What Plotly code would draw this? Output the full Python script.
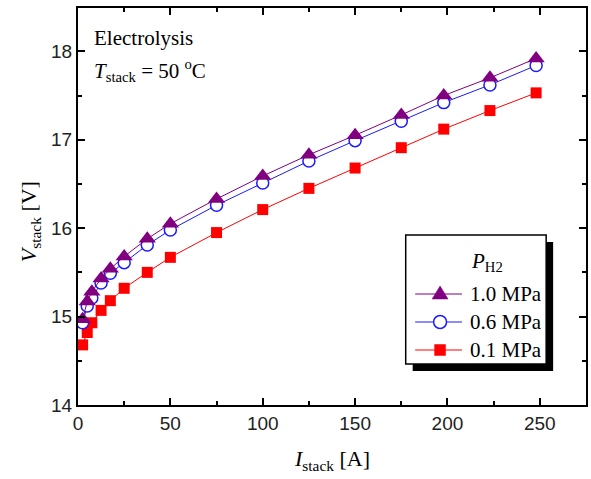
import plotly.graph_objects as go

current = [2.5, 5, 7.5, 12.5, 17.5, 25, 37.5, 50, 75, 100, 125, 150, 175, 198, 223, 248]
v_10 = [14.97, 15.17, 15.28, 15.43, 15.54, 15.68, 15.88, 16.05, 16.33, 16.59, 16.83, 17.05, 17.28, 17.50, 17.70, 17.92]
v_06 = [14.93, 15.12, 15.21, 15.38, 15.49, 15.61, 15.81, 15.98, 16.26, 16.51, 16.76, 16.99, 17.21, 17.42, 17.62, 17.84]
v_01 = [14.68, 14.82, 14.93, 15.07, 15.18, 15.32, 15.50, 15.67, 15.95, 16.21, 16.45, 16.68, 16.91, 17.12, 17.33, 17.53]
names = ["1.0 MPa", "0.6 MPa", "0.1 MPa"]
colors = ["#800080", "#1a1aff", "#ff0000"]

W, H = 591, 479
L, R, T, B = 78, 3, 8, 74
pw, ph = W - L - R, H - T - B

def px(x):
    return (x - L) / pw

def py(y):
    return (H - B - y) / ph

serif = "Liberation Serif, Times New Roman, serif"
sans = "Liberation Sans, Arial, sans-serif"

fig = go.Figure()
fig.add_trace(go.Scatter(x=current, y=v_01, name=names[2], mode="lines+markers",
                         line=dict(color=colors[2], width=1),
                         marker=dict(symbol="square", size=11, color=colors[2])))
fig.add_trace(go.Scatter(x=current, y=v_06, name=names[1], mode="lines+markers",
                         line=dict(color=colors[1], width=1),
                         marker=dict(symbol="circle", size=12, color="white",
                                     line=dict(color=colors[1], width=1.5))))
fig.add_trace(go.Scatter(x=current, y=v_10, name=names[0], mode="lines+markers",
                         line=dict(color=colors[0], width=1),
                         marker=dict(symbol="triangle-up", size=15, color=colors[0])))

axis_common = dict(showline=True, linecolor="black", linewidth=2, mirror="allticks",
                   ticks="inside", ticklen=7, tickwidth=1.5, tickcolor="black",
                   showgrid=False, zeroline=False,
                   tickfont=dict(family=sans, size=19, color="#222"))

fig.update_xaxes(range=[0, 275], dtick=50, tick0=0,
                 minor=dict(ticks="inside", ticklen=4, dtick=25, tickcolor="black", tickwidth=1.5),
                 **axis_common)
fig.update_yaxes(range=[14, 18.49], dtick=1, tick0=14,
                 minor=dict(ticks="inside", ticklen=4, dtick=0.5, tickcolor="black", tickwidth=1.5),
                 **axis_common)

# ---- hand-drawn legend (box, shadow, glyphs, labels) ----
lx0, ly0, lx1, ly1 = 407, 235, 548, 364
shapes = []
annotations = []
shapes.append(dict(type="rect", xref="paper", yref="paper",
                   x0=px(lx0 + 7), x1=px(lx1 + 7), y0=py(ly1 + 7), y1=py(ly0 + 7),
                   fillcolor="black", line=dict(width=0), layer="above"))
shapes.append(dict(type="rect", xref="paper", yref="paper",
                   x0=px(lx0), x1=px(lx1), y0=py(ly1), y1=py(ly0),
                   fillcolor="white", line=dict(color="black", width=1.5), layer="above"))
annotations.append(dict(text="<i>P</i><sub>H2</sub>", x=px(489), y=py(262),
                        xref="paper", yref="paper", xanchor="center", yanchor="middle",
                        showarrow=False, font=dict(family=serif, size=21, color="black")))
row_y = [294, 322, 350]
gx0, gx1, gxc = 416.5, 463.5, 441.5
for i in range(3):
    yy = row_y[i]
    shapes.append(dict(type="line", xref="paper", yref="paper",
                       x0=px(gx0), x1=px(gx1), y0=py(yy), y1=py(yy),
                       line=dict(color=colors[i], width=1), layer="above"))
    annotations.append(dict(text=names[i], x=px(470), y=py(yy), xref="paper", yref="paper",
                            xanchor="left", yanchor="middle", showarrow=False,
                            font=dict(family=serif, size=21, color="black")))
# triangle glyph
ty = row_y[0]
shapes.append(dict(type="path", xref="paper", yref="paper",
                   path=f"M {px(gxc-8)},{py(ty+5)} L {px(gxc+8)},{py(ty+5)} L {px(gxc)},{py(ty-8)} Z",
                   fillcolor=colors[0], line=dict(color=colors[0], width=0.5), layer="above"))
# circle glyph
cy = row_y[1]
shapes.append(dict(type="circle", xref="paper", yref="paper",
                   x0=px(gxc-6.5), x1=px(gxc+6.5), y0=py(cy+6.5), y1=py(cy-6.5),
                   fillcolor="white", line=dict(color=colors[1], width=1.5), layer="above"))
# square glyph
sy = row_y[2]
shapes.append(dict(type="rect", xref="paper", yref="paper",
                   x0=px(gxc-5.5), x1=px(gxc+5.5), y0=py(sy+5.5), y1=py(sy-5.5),
                   fillcolor=colors[2], line=dict(color=colors[2], width=0.5), layer="above"))

annotations += [
    dict(text="Electrolysis", x=px(92), y=py(38), xref="paper", yref="paper",
         xanchor="left", yanchor="middle", showarrow=False,
         font=dict(family=serif, size=21, color="black")),
    dict(text="<i>T</i><sub>stack</sub> = 50 <sup>o</sup>C", x=px(92), y=py(70),
         xref="paper", yref="paper", xanchor="left", yanchor="middle", showarrow=False,
         font=dict(family=serif, size=21, color="black")),
    dict(text="<i>V</i><sub>stack</sub> [V]", x=px(30), y=py(222), xref="paper", yref="paper",
         xanchor="center", yanchor="middle", textangle=-90, showarrow=False,
         font=dict(family=serif, size=22, color="black")),
    dict(text="<i>I</i><sub>stack</sub> [A]", x=px(333), y=py(460), xref="paper", yref="paper",
         xanchor="center", yanchor="middle", showarrow=False,
         font=dict(family=serif, size=22, color="black")),
]

fig.update_layout(
    width=W, height=H,
    margin=dict(l=L, r=R, t=T, b=B, pad=0),
    paper_bgcolor="white", plot_bgcolor="white",
    showlegend=False,
    shapes=shapes,
    annotations=annotations,
)

fig.write_html("out.html")
